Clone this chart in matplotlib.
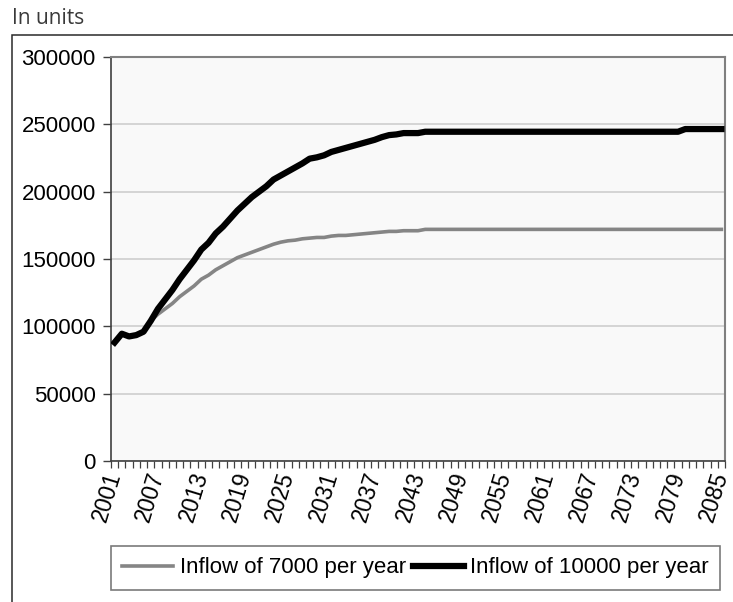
import matplotlib
matplotlib.use("Agg")
import matplotlib.pyplot as plt
from matplotlib.patches import Rectangle
from matplotlib.lines import Line2D
import numpy as np

years = list(range(2001, 2086))

inflow_10000 = [
    88000, 94500, 92500, 93500, 96000, 104000, 113000, 120000, 127000, 135000,
    142000, 149000, 157000, 162000, 169000, 174000, 180000, 186000, 191000, 196000,
    200000, 204000, 209000, 212000, 215000, 218000, 221000, 224500, 225500, 227000,
    229500, 231000, 232500, 234000, 235500, 237000, 238500, 240500, 242000, 242500,
    243500, 243500, 243500, 244500,
] + [244500] * 35 + [246500] * 6

inflow_7000 = [
    88000, 94500, 92500, 93500, 96000, 104000, 109000, 113000, 117000, 122000,
    126000, 130000, 135000, 138000, 142000, 145000, 148000, 151000, 153000, 155000,
    157000, 159000, 161000, 162500, 163500, 164000, 165000, 165500, 166000, 166000,
    167000, 167500, 167500, 168000, 168500, 169000, 169500, 170000, 170500, 170500,
    171000, 171000, 171000, 172000,
] + [172000] * 41

series_labels = ["Inflow of 7000 per year", "Inflow of 10000 per year"]
y_ticks = [0, 50000, 100000, 150000, 200000, 250000, 300000]

W, H, DPI = 733, 602, 100
fig = plt.figure(figsize=(W / DPI, H / DPI), dpi=DPI, facecolor="white")

# outer frame, open to the right and bottom
fig.add_artist(Rectangle((12 / W, -0.1), 1.2, (602 - 35) / H + 0.1,
                         transform=fig.transFigure, fill=False,
                         edgecolor="#2a2a2a", linewidth=1.1))

fig.text(12 / W, (602 - 19) / H, "In units", family="Open Sans",
         fontsize=15, color="#3a3a3a", ha="left", va="center")

ax = fig.add_axes([111 / W, (602 - 461) / H, (725 - 111) / W, (461 - 57) / H])
ax.set_facecolor("#f9f9f9")

x = np.arange(len(years))
ax.plot(x, inflow_7000, color="#858585", linewidth=2.6, solid_joinstyle="round",
        label=series_labels[0], zorder=3)
ax.plot(x, inflow_10000, color="black", linewidth=4.5, solid_joinstyle="round",
        label=series_labels[1], zorder=4)

ax.set_xlim(-0.5, len(years) - 0.5)
ax.set_ylim(0, 300000)

ax.set_yticks(y_ticks)
ax.set_yticklabels([str(v) for v in y_ticks], family="Liberation Sans", fontsize=16)
ax.tick_params(axis="y", length=6, width=1, color="#404040", pad=5)
ax.yaxis.grid(True, color="#d2d2d2", linewidth=1.3)
ax.set_axisbelow(True)

major = x[::6]
ax.set_xticks(major)
ax.set_xticklabels([str(years[i]) for i in major], family="Liberation Sans",
                   fontsize=16.5, rotation=73, ha="right", va="center",
                   rotation_mode="anchor")
ax.set_xticks(np.arange(-0.5, len(years)), minor=True)
ax.tick_params(axis="x", which="major", length=0, pad=8)
ax.tick_params(axis="x", which="minor", length=5, width=0.9, color="#404040")

for side in ("left", "bottom"):
    ax.spines[side].set_color("#404040")
    ax.spines[side].set_linewidth(1.2)
for side in ("top", "right"):
    ax.spines[side].set_color("#808080")
    ax.spines[side].set_linewidth(1.5)

handles = [Line2D([], [], color="#858585", linewidth=2.6),
           Line2D([], [], color="black", linewidth=4.5)]
leg = fig.legend(handles, series_labels, loc="center",
                 bbox_to_anchor=((111 + 720) / 2 / W, (602 - 568) / H),
                 ncol=2, frameon=True, fancybox=False, edgecolor="#7a7a7a",
                 facecolor="white", framealpha=1, handlelength=2.3,
                 handletextpad=0.3, columnspacing=0.3, borderpad=0.5,
                 prop={"family": "Liberation Sans", "size": 16})
leg.get_frame().set_linewidth(1.2)

fig.savefig("out.png", dpi=DPI, facecolor="white")
